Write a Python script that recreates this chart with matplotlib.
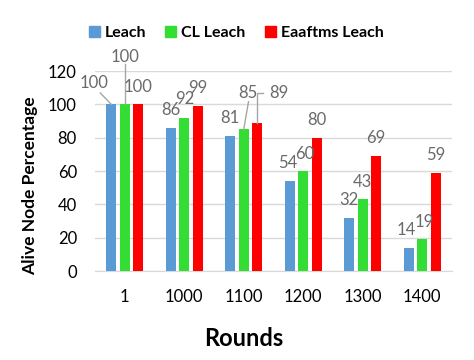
import matplotlib
matplotlib.use("Agg")
import matplotlib.pyplot as plt
from matplotlib.patches import Patch
import numpy as np

plt.rcParams['font.family'] = ['Lato', 'DejaVu Sans']

categories = ['1', '1000', '1100', '1200', '1300', '1400']
series_names = ['Leach', 'CL Leach', 'Eaaftms Leach']
leach = [100, 86, 81, 54, 32, 14]
cl_leach = [100, 92, 85, 60, 43, 19]
eaaftms = [100, 99, 89, 80, 69, 59]
colors = ['#5B9BD5', '#33DD33', '#FF0000']

# label placement (layout): offsets (dx in category units, dy in data units) relative to bar top
label_offsets = [
    [(-0.29, 12.8), (0.0, 28.4), (0.0, 10.4)],
    [(0.0, 10.6), (0.0, 11.2), (0.0, 10.8)],
    [(0.0, 10.8), (0.07, 21.8), (0.37, 17.8)],
    [(-0.04, 10.8), (0.03, 10.2), (0.0, 10.6)],
    [(0.0, 10.6), (0.0, 10.4), (0.0, 10.8)],
    [(-0.04, 10.6), (0.03, 10.4), (0.0, 10.6)],
]

fig = plt.figure(figsize=(4.74, 3.6), dpi=100)
ax = fig.add_axes([95/474, 1-271/360, (452-95)/474, 200/360])

x = np.arange(len(categories))
width = 0.168
offsets = [-0.226, 0.0, 0.226]
all_series = [leach, cl_leach, eaaftms]
for s, (vals, off, col) in enumerate(zip(all_series, offsets, colors)):
    ax.bar(x + off, vals, width, color=col, zorder=3)

label_color = '#6A6A6A'
line_color = '#A6A6A6'
for i in range(len(categories)):
    for s, vals in enumerate(all_series):
        bx = x[i] + offsets[s]
        by = vals[i]
        dx, dy = label_offsets[i][s]
        ax.text(bx + dx, by + dy, str(vals[i]), ha='center', va='center',
                fontsize=12, color=label_color, clip_on=False, zorder=5)

# leader lines
# cat 1, Leach
bx = x[0] + offsets[0]
ax.plot([bx - 0.185, bx], [106.8, leach[0]], color=line_color, lw=1, clip_on=False, zorder=4)
# cat 1, CL Leach
bx = x[0] + offsets[1]
ax.plot([bx, bx], [124.2, cl_leach[0]], color=line_color, lw=1, clip_on=False, zorder=4)
# cat 1100, CL Leach
bx = x[2] + offsets[1]
ax.plot([bx + 0.08, bx], [101.6, cl_leach[2]], color=line_color, lw=1, clip_on=False, zorder=4)
# cat 1100, Eaaftms
bx = x[2] + offsets[2]
ax.plot([bx + 0.1, bx, bx], [106.8, 106.8, eaaftms[2]], color=line_color, lw=1, clip_on=False, zorder=4)

ax.set_xlim(-0.5, len(categories) - 0.5)
ax.set_ylim(0, 120)
ax.set_yticks(np.arange(0, 121, 20))
ax.set_xticks(x)
ax.set_xticklabels(categories)
ax.yaxis.grid(True, color='#D9D9D9', lw=1, zorder=0)
ax.set_axisbelow(True)
for sp in ['top', 'right', 'left']:
    ax.spines[sp].set_visible(False)
ax.spines['bottom'].set_color('#D9D9D9')
ax.tick_params(axis='both', length=0, labelsize=12, colors='#000000')
ax.tick_params(axis='y', pad=13)
ax.tick_params(axis='x', pad=13)

fig.text(30/474, 1-186/360, 'Alive Node Percentage', rotation=90, ha='center', va='center',
         fontsize=12.5, fontweight='bold')
fig.text(244/474, 1-338/360, 'Rounds', ha='center', va='center', fontsize=17, fontweight='bold')

handles = [Patch(color=c) for c in colors]
fig.legend(handles, series_names, loc='center', bbox_to_anchor=(236/474, 1-33/360), ncol=3,
           frameon=False, handlelength=0.7, handleheight=0.7, handletextpad=0.3,
           columnspacing=1.2, prop={'weight': 'bold', 'size': 11.5})

fig.savefig('out.png', dpi=100, facecolor='white')
